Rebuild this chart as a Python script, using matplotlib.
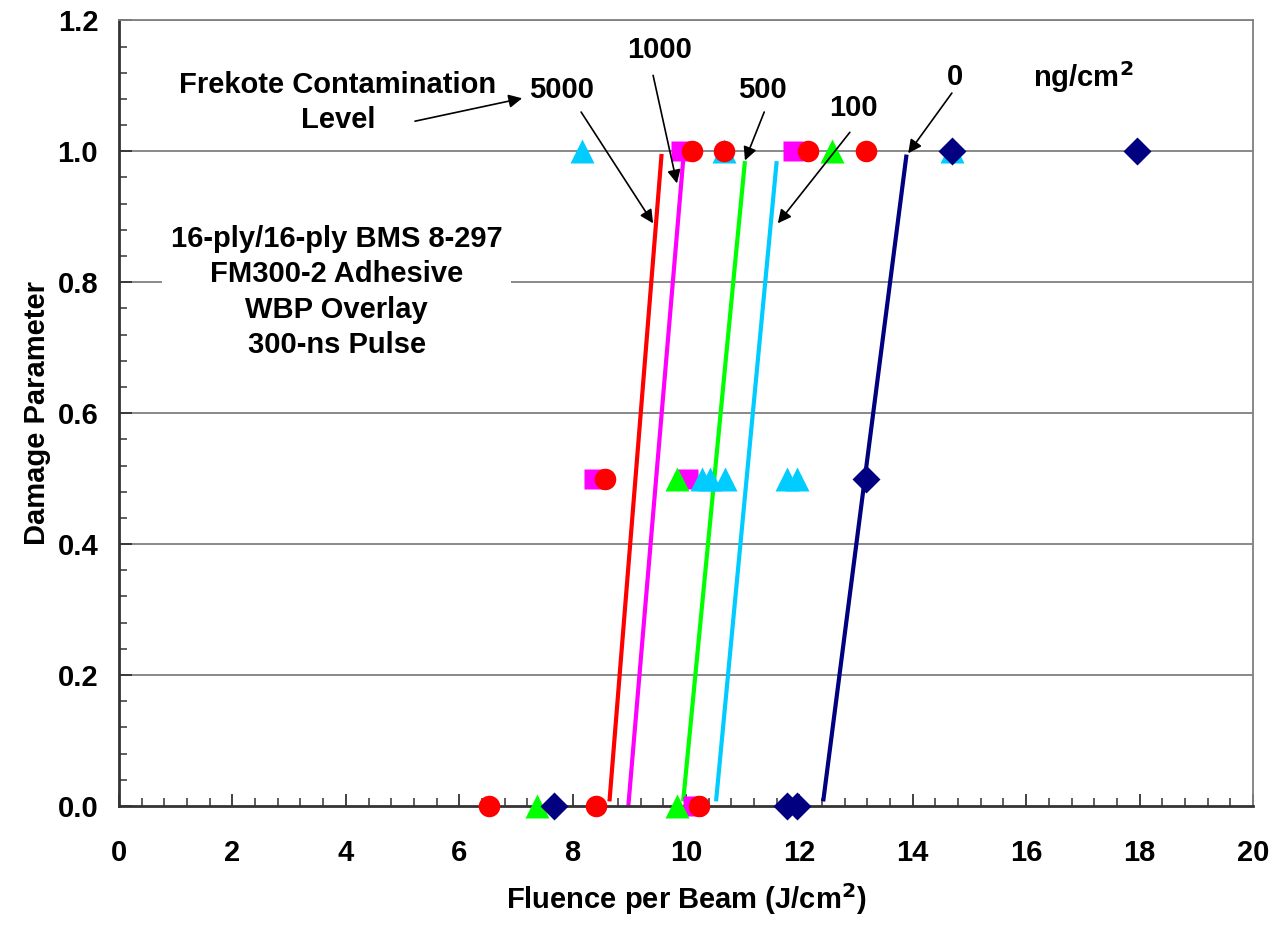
import matplotlib
matplotlib.use("Agg")
import matplotlib.pyplot as plt
from matplotlib.ticker import MultipleLocator

plt.rcParams['font.family'] = ['Liberation Sans', 'DejaVu Sans']
plt.rcParams['font.weight'] = 'bold'

# Contamination levels (ng/cm^2) and their test results (fluence, damage)
levels = ["0", "100", "500", "1000", "5000"]

fl_0 = [7.68, 11.78, 11.95, 13.17, 14.69, 17.95]
dmg_0 = [0.0, 0.0, 0.0, 0.5, 1.0, 1.0]

fl_100 = [10.28, 10.42, 10.69, 11.78, 11.95, 8.16, 10.67, 14.69]
dmg_100 = [0.5, 0.5, 0.5, 0.5, 0.5, 1.0, 1.0, 1.0]

fl_500 = [7.38, 9.85, 9.84, 12.57]
dmg_500 = [0.0, 0.0, 0.5, 1.0]

fl_1000 = [10.12, 8.37, 10.04, 9.92, 11.89]
dmg_1000 = [0.0, 0.5, 0.5, 1.0, 1.0]

fl_5000 = [6.53, 8.41, 10.23, 8.57, 10.10, 10.67, 12.15, 13.17]
dmg_5000 = [0.0, 0.0, 0.0, 0.5, 1.0, 1.0, 1.0, 1.0]

# Threshold fit lines (start/end fluence and damage)
fit_fl_0 = [12.42, 13.89]
fit_dmg_0 = [0.007, 0.995]
fit_fl_100 = [10.53, 11.60]
fit_dmg_100 = [0.007, 0.985]
fit_fl_500 = [9.95, 11.04]
fit_dmg_500 = [0.007, 0.985]
fit_fl_1000 = [8.98, 9.95]
fit_dmg_1000 = [-0.003, 0.986]
fit_fl_5000 = [8.65, 9.57]
fit_dmg_5000 = [0.007, 0.996]

x_ticks = [0, 2, 4, 6, 8, 10, 12, 14, 16, 18, 20]
y_ticks = [0.0, 0.2, 0.4, 0.6, 0.8, 1.0, 1.2]

c_navy = "#000080"
c_cyan = "#00CCFF"
c_green = "#00FF00"
c_mag = "#FF00FF"
c_red = "#FF0000"

FS = 21

fig = plt.figure(figsize=(12.72, 9.26), dpi=100)
ax = fig.add_axes([0.0936, 0.1296, 0.8914, 0.8484])

ax.set_xlim(0, 20)
ax.set_ylim(0, 1.2)

# grid lines
for yv in y_ticks[1:]:
    ax.axhline(yv, color="#808080", lw=1.3, zorder=1)

# fit lines
ax.plot(fit_fl_5000, fit_dmg_5000, color=c_red, lw=3, zorder=2, solid_capstyle='butt')
ax.plot(fit_fl_1000, fit_dmg_1000, color=c_mag, lw=3, zorder=2, solid_capstyle='butt')
ax.plot(fit_fl_500, fit_dmg_500, color=c_green, lw=3, zorder=2, solid_capstyle='butt')
ax.plot(fit_fl_100, fit_dmg_100, color=c_cyan, lw=3, zorder=2, solid_capstyle='butt')
ax.plot(fit_fl_0, fit_dmg_0, color=c_navy, lw=3, zorder=2, solid_capstyle='butt')

# data points
ax.plot(fl_1000, dmg_1000, ls='none', marker='s', ms=14.5, color=c_mag, mec='none', zorder=3, clip_on=False)
ax.plot(fl_100, dmg_100, ls='none', marker='^', ms=17, color=c_cyan, mec='none', zorder=4, clip_on=False)
ax.plot(fl_500, dmg_500, ls='none', marker='^', ms=17, color=c_green, mec='none', zorder=5, clip_on=False)
ax.plot(fl_5000, dmg_5000, ls='none', marker='o', ms=15.5, color=c_red, mec='none', zorder=6, clip_on=False)
ax.plot(fl_0, dmg_0, ls='none', marker='D', ms=14, color=c_navy, mec='none', zorder=7, clip_on=False)

# axes styling
ax.set_xticks(x_ticks)
ax.set_yticks(y_ticks)
ax.set_yticklabels([f"{v:.1f}" for v in y_ticks])
ax.xaxis.set_minor_locator(MultipleLocator(0.4))
ax.yaxis.set_minor_locator(MultipleLocator(0.04))
ax.tick_params(axis='both', which='major', direction='in', length=9, width=1.3,
               labelsize=FS, color='#333333')
ax.tick_params(axis='both', which='minor', direction='in', length=6, width=1.1,
               color='#333333')
ax.tick_params(axis='x', which='major', pad=24)
ax.tick_params(axis='y', which='major', pad=15)
for lab in ax.get_xticklabels() + ax.get_yticklabels():
    lab.set_fontweight('bold')

ax.spines['left'].set_color('#333333')
ax.spines['bottom'].set_color('#333333')
ax.spines['left'].set_linewidth(2)
ax.spines['bottom'].set_linewidth(2)
ax.spines['top'].set_color('#808080')
ax.spines['right'].set_color('#808080')
ax.spines['top'].set_linewidth(1.3)
ax.spines['right'].set_linewidth(1.3)

ax.set_xlabel("Fluence per Beam (J/cm$^\\mathbf{2}$)", fontsize=FS, fontweight='bold', labelpad=10)
ax.set_ylabel("Damage Parameter", fontsize=FS, fontweight='bold', labelpad=5)

# annotations
arrow_kw = dict(arrowstyle='-|>', color='black', lw=1.2, mutation_scale=20,
                shrinkA=0, shrinkB=0)
txt_kw = dict(fontsize=FS, fontweight='bold', ha='center', va='center', zorder=10)

ax.text(3.86, 1.075, "Frekote Contamination\nLevel", linespacing=1.3, **txt_kw)
ax.annotate('', xy=(7.11, 1.081), xytext=(5.22, 1.046), arrowprops=arrow_kw)

label_pos = {
    "5000": ((7.81, 1.093), (8.15, 1.060), (9.42, 0.890)),
    "1000": ((9.54, 1.154), (9.42, 1.116), (9.84, 0.951)),
    "500": ((11.34, 1.093), (11.38, 1.060), (11.04, 0.986)),
    "100": ((12.96, 1.066), (12.89, 1.029), (11.62, 0.890)),
    "0": ((14.74, 1.113), (14.69, 1.089), (13.92, 0.997)),
}
for name in levels:
    tpos, tail, head = label_pos[name]
    ax.text(tpos[0], tpos[1], name, **txt_kw)
    ax.annotate('', xy=head, xytext=tail, arrowprops=arrow_kw, zorder=9)

ax.text(17.0, 1.113, "ng/cm$^\\mathbf{2}$", **txt_kw)

ax.text(3.84, 0.785, "16-ply/16-ply BMS 8-297\nFM300-2 Adhesive\nWBP Overlay\n300-ns Pulse",
        linespacing=1.33, fontsize=FS, fontweight='bold', ha='center', va='center', zorder=10,
        bbox=dict(facecolor='white', edgecolor='none', pad=6))

fig.savefig("out.png", dpi=100)
